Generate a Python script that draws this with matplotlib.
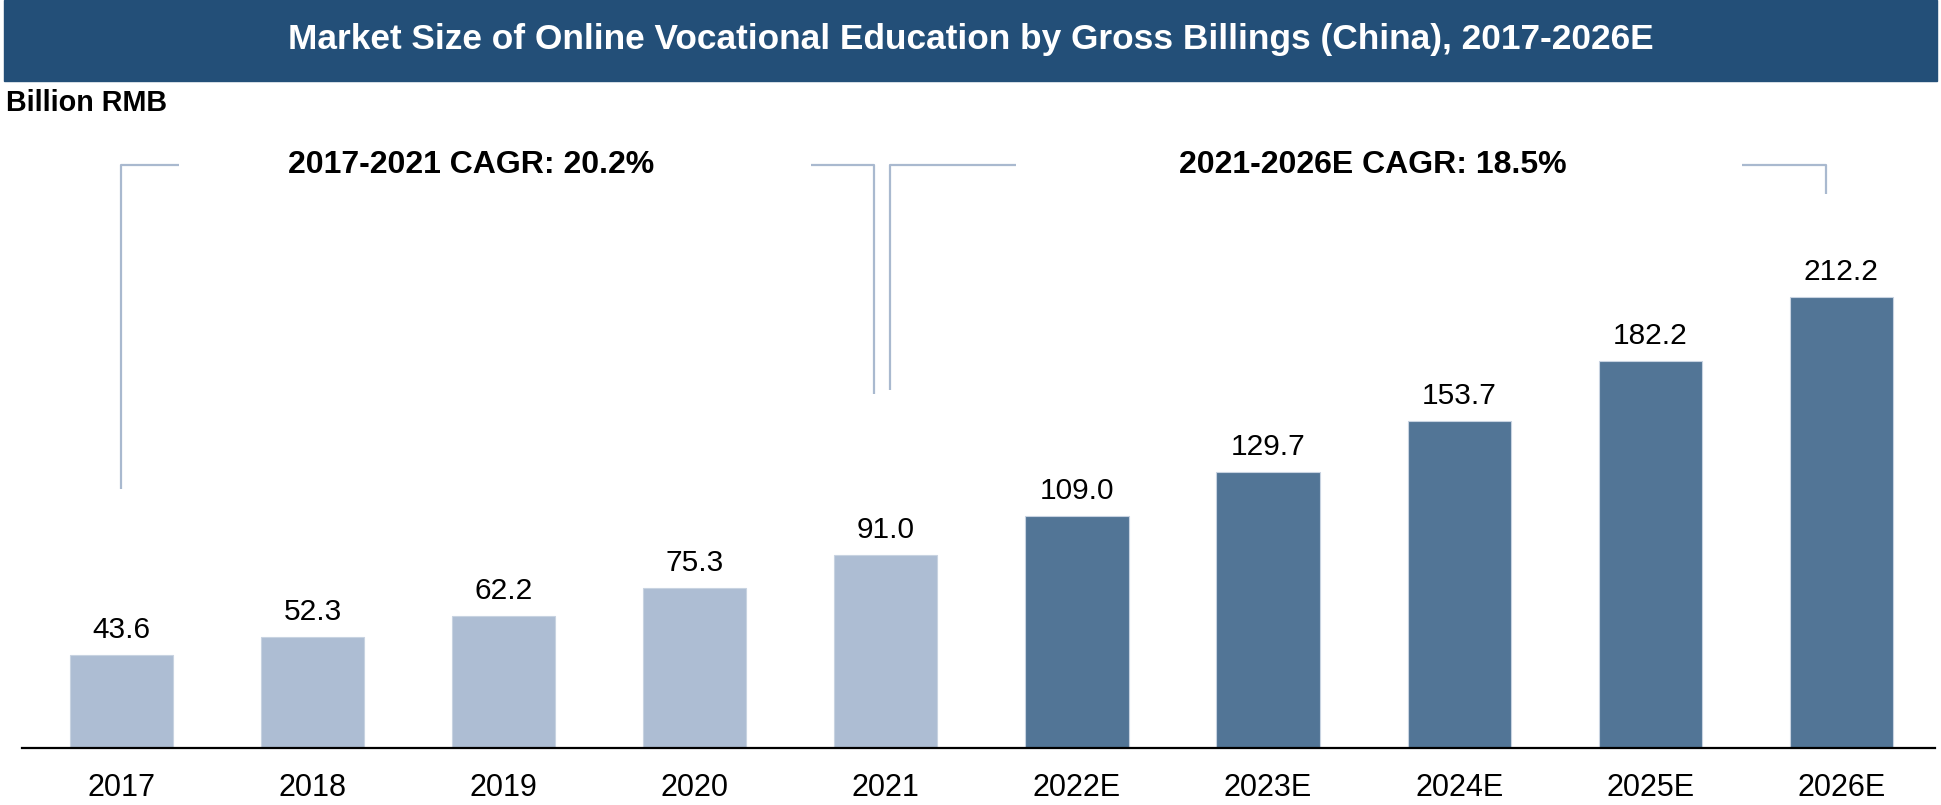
import matplotlib.pyplot as plt
from matplotlib.patches import Rectangle

# ─── Data ─────────────────────────────────────────────────────────────────────
years = ['2017', '2018', '2019', '2020', '2021',
         '2022E', '2023E', '2024E', '2025E', '2026E']
billings = [43.6, 52.3, 62.2, 75.3, 91.0, 109.0, 129.7, 153.7, 182.2, 212.2]
is_forecast = [False] * 5 + [True] * 5

cagr_labels = ['2017-2021 CAGR: 20.2%', '2021-2026E CAGR: 18.5%']

LIGHT = '#ADBDD3'
DARK = '#527596'
HEADER = '#234F78'
BRACKET = '#A9B9CF'

plt.rcParams['font.family'] = ['Liberation Sans', 'DejaVu Sans']

W, H = 1941, 805
fig = plt.figure(figsize=(W / 100, H / 100), dpi=100)

# header bar
fig.patches.append(Rectangle((4 / W, 1 - 81 / H), 1933 / W, 81 / H,
                             transform=fig.transFigure, color=HEADER, zorder=0))
fig.text(0.5, 1 - 40 / H,
         'Market Size of Online Vocational Education by Gross Billings (China), 2017-2026E',
         ha='center', va='center', color='white', fontsize=25.4,
         fontweight='bold')
fig.text(6 / W, 1 - 103 / H, 'Billion RMB', ha='left', va='center',
         fontsize=20.7, fontweight='bold')

# ─── Bars ─────────────────────────────────────────────────────────────────────
ax = fig.add_axes([22 / W, 1 - 748 / H, (1935 - 22) / W, (748 - 100) / H])
x = list(range(len(years)))
colors = [DARK if f else LIGHT for f in is_forecast]
bars = ax.bar(x, billings, width=0.54, color=colors,
              edgecolor='#C8D3E1', linewidth=0.8)
for xi, v in zip(x, billings):
    ax.annotate(f'{v:.1f}', (xi, v), xytext=(0, 8), textcoords='offset points',
                ha='center', va='bottom', fontsize=21.5)

ax.set_xlim(-0.52, 9.49)
ax.set_ylim(0, 305)
ax.set_xticks(x)
ax.set_xticklabels(years, fontsize=22)
ax.tick_params(axis='x', length=0, pad=18)
ax.set_yticks([])
for s in ['left', 'right', 'top']:
    ax.spines[s].set_visible(False)
ax.spines['bottom'].set_linewidth(1.6)
ax.spines['bottom'].set_zorder(3)

# ─── CAGR brackets ────────────────────────────────────────────────────────────
top = 274.6
kw = dict(color=BRACKET, lw=1.6, solid_capstyle='butt', clip_on=False)
ax.plot([0.30, 0, 0], [top, top, 121.9], **kw)
ax.plot([3.61, 3.94, 3.94], [top, top, 166.8], **kw)
ax.plot([4.68, 4.02, 4.02], [top, top, 168.5], **kw)
ax.plot([8.48, 8.92, 8.92], [top, top, 260.6], **kw)
ax.text(1.83, top, cagr_labels[0], ha='center', va='center', fontsize=23,
        fontweight='bold')
ax.text(6.55, top, cagr_labels[1], ha='center', va='center', fontsize=23,
        fontweight='bold')

plt.savefig('out.png', dpi=100)
